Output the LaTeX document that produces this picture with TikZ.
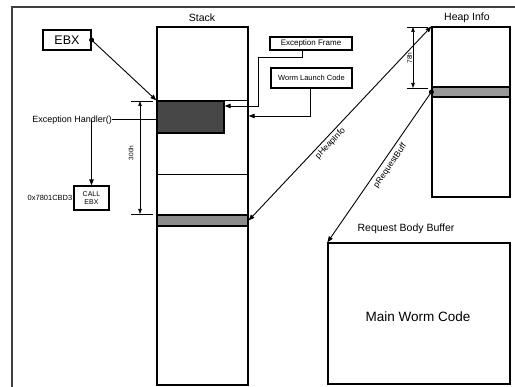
\documentclass[tikz,border=0pt]{standalone}
\usepackage{fontspec}
\setmainfont{Liberation Sans}
\usetikzlibrary{arrows.meta,calc}
\begin{document}
\begin{tikzpicture}[x=1pt,y=-1pt,
 box/.style={draw,line width=1.2pt,inner sep=0pt,rectangle},
 conn/.style={line width=0.9pt,-{Triangle[length=6pt,width=4.5pt]}},
 dimline/.style={line width=0.6pt,{Triangle[length=5pt,width=3.5pt]}-{Triangle[length=5pt,width=3.5pt]}},
 tickline/.style={line width=0.6pt},
 lblbig/.style={font=\fontsize{10.5}{12}\selectfont,inner sep=0pt},
 lblmid/.style={font=\fontsize{9}{10}\selectfont,inner sep=0pt},
 lblsmall/.style={font=\fontsize{7.5}{9}\selectfont,inner sep=0pt},
 lbltiny/.style={font=\fontsize{6.5}{7.5}\selectfont,inner sep=0pt},
]
\useasboundingbox (0,0) rectangle (515,387);
% frame
\draw[line width=1.4pt,black!75] (12,387) -- (12,7) -- (515,7);

% stack
\node[box,minimum width=91pt,minimum height=358pt] (stack) at (202.5,206) {};
\node[lblbig] (stacklbl) at (202,18) {Stack};
\node[box,fill=black!72,minimum width=67pt,minimum height=32pt] (xframe) at (190.5,117) {};
\draw[line width=1.2pt] (stack.west |- xframe.north) -- (stack.east |- xframe.north);
\coordinate (sl) at (157,174);
\draw[line width=0.9pt] (sl) -- (stack.east |- sl);
\node[box,fill=black!45,minimum width=91pt,minimum height=11pt] (band) at (202.5,220.5) {};

% EBX
\node[box,font=\fontsize{12.5}{14}\selectfont,minimum width=48pt,minimum height=20pt] (ebx) at (67,40) {EBX};
\fill (ebx.east) circle (2.5pt);
\draw[conn] (ebx.east) -- (xframe.north west);

% Exception handler
\node[lblmid,anchor=east] (eh) at (112,120) {Exception Handler()};
\draw[line width=1pt] (eh.east) -- (eh.east -| xframe.west);
\coordinate (ehj) at (91.5,120);
\node[box,font=\fontsize{7}{8}\selectfont,align=center,minimum width=35pt,minimum height=24pt] (call) at (91.5,198) {CALL\\EBX};
\draw[conn] (ehj) -- (call.north);
\node[lblsmall,anchor=east] (addr) at (72.5,198) {0x7801CBD3};

% 300h dimension
\coordinate (d1t) at (140,101);
\coordinate (d1b) at (140,214);
\draw[tickline] ([xshift=-9pt]d1t) -- ([xshift=13pt]d1t);
\draw[tickline] ([xshift=-9pt]d1b) -- ([xshift=13pt]d1b);
\draw[dimline] (d1t) -- (d1b);
\node[lbltiny,rotate=90] (h300) at (131,153) {300h};

% Exception Frame box
\node[box,font=\fontsize{8}{9}\selectfont,minimum width=82pt,minimum height=13pt] (ef) at (311,43.5) {Exception Frame};
\draw[conn] ([xshift=-9pt]ef.south) -- ++(0,7) -| (258,106) -- (xframe.east |- 258,106);

% Worm Launch Code box
\node[box,lblsmall,minimum width=81pt,minimum height=20pt] (wl) at (311.5,78) {Worm Launch Code};
\draw[conn] ([xshift=-1.5pt]wl.south) |- (stack.east |- 0,116);

% Heap
\node[box,minimum width=78pt,minimum height=170pt] (heap) at (471,112) {};
\node[lblbig] (heaplbl) at (467,18) {Heap Info};
\node[box,fill=black!40,minimum width=78pt,minimum height=10pt] (hband) at (471,92) {};

% 78h dimension
\coordinate (d2t) at (413,27);
\coordinate (d2b) at (413,88);
\draw[tickline] ([xshift=-6pt]d2t) -- ([xshift=15pt]d2t);
\draw[tickline] ([xshift=-6pt]d2b) -- ([xshift=15pt]d2b);
\draw[dimline] (d2t) -- (d2b);
\node[lbltiny,rotate=90,fill=white,inner sep=0.5pt] (h78) at (409.5,58) {78h};

% pHeapInfo
\draw[line width=0.9pt,{Triangle[length=6pt,width=4.5pt]}-{Triangle[length=6pt,width=4.5pt]}] (band.east) -- (heap.north west);
\node[font=\fontsize{8.5}{10}\selectfont,inner sep=0pt,rotate=46.4] (phi) at (330.5,143.5) {pHeapInfo};

% Request body buffer
\node[box,minimum width=182pt,minimum height=141pt] (req) at (419,313.5) {};
\node[lblbig] (reqlbl) at (406,229) {Request Body Buffer};
\node[font=\fontsize{13.5}{15}\selectfont,inner sep=0pt] (mwc) at (418,317) {Main Worm Code};

% pRequestBuff
\fill (hband.west) circle (2.5pt);
\draw[conn] (hband.west) -- (req.north west);
\node[font=\fontsize{8.5}{10}\selectfont,inner sep=0pt,rotate=55.4] (prb) at (390.2,165.7) {pRequestBuff};
\end{tikzpicture}
\end{document}
